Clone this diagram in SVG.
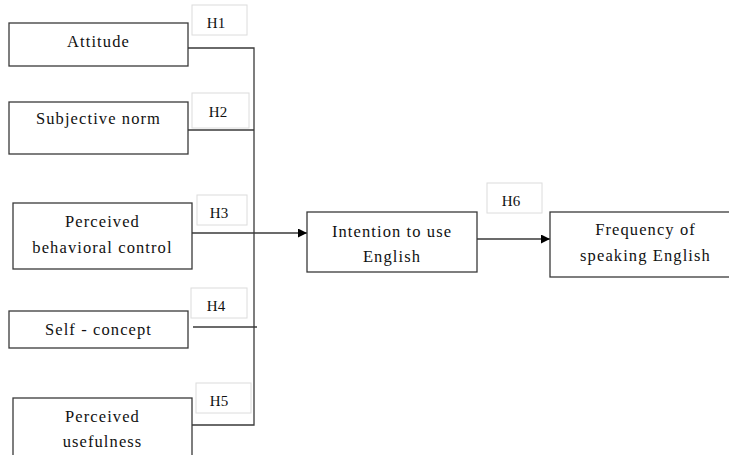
<svg xmlns="http://www.w3.org/2000/svg" width="729" height="455" viewBox="0 0 729 455">
  <defs>
    <marker id="arr" viewBox="0 0 10 10" refX="10" refY="5" markerWidth="9" markerHeight="9" markerUnits="userSpaceOnUse" orient="auto">
      <path d="M0,0 L10,5 L0,10 z" fill="#000"/>
    </marker>
  </defs>
  <style>
    .box { fill: #fff; stroke: #3a3a3a; stroke-width: 1.3; }
    .hbox { fill: #fff; stroke: #dcdcdc; stroke-width: 1; }
    .t { font-size: 16.5px; letter-spacing: 1.1px; fill: #111; }
    .h { font-size: 15px; fill: #111; }
    .ln { fill: none; stroke: #3a3a3a; stroke-width: 1.3; }
  </style>
  <rect width="729" height="455" fill="#fff"/>
  <g font-family="Liberation Serif, DejaVu Serif, serif" text-anchor="middle">
  <g id="labels">
    <g id="H1"><rect class="hbox" x="192" y="5" width="55" height="30"/><text class="h" x="216" y="28">H1</text></g>
    <g id="H2"><rect class="hbox" x="192" y="93" width="57" height="35"/><text class="h" x="218" y="117">H2</text></g>
    <g id="H3"><rect class="hbox" x="197" y="195" width="50" height="30"/><text class="h" x="219" y="218">H3</text></g>
    <g id="H4"><rect class="hbox" x="191" y="288" width="56" height="30"/><text class="h" x="216" y="311">H4</text></g>
    <g id="H5"><rect class="hbox" x="196" y="383" width="55" height="30"/><text class="h" x="219" y="406">H5</text></g>
    <g id="H6"><rect class="hbox" x="487" y="183" width="55" height="30"/><text class="h" x="511" y="206">H6</text></g>
  </g>

  <g id="connectors">
    <path class="ln" d="M188,48 H254 V425 H188"/>
    <path class="ln" d="M188,130 H254"/>
    <path class="ln" d="M193,327 H257"/>
    <path class="ln" d="M192,233 H307" marker-end="url(#arr)"/>
    <path class="ln" d="M477,239 H550" marker-end="url(#arr)"/>
  </g>

  <g id="attitude"><rect class="box" x="9" y="23" width="179" height="43"/><text class="t" x="98.5" y="47">Attitude</text></g>
  <g id="subjective-norm"><rect class="box" x="9" y="102" width="179" height="52"/><text class="t" x="98.5" y="124">Subjective norm</text></g>
  <g id="pbc"><rect class="box" x="13" y="203" width="179" height="66"/><text class="t" x="102.5" y="227">Perceived</text><text class="t" x="102.5" y="253">behavioral control</text></g>
  <g id="self-concept"><rect class="box" x="9" y="311" width="179" height="37"/><text class="t" x="98.5" y="335">Self - concept</text></g>
  <g id="perceived-usefulness"><rect class="box" x="13" y="398" width="179" height="70"/><text class="t" x="102.5" y="422">Perceived</text><text class="t" x="102.5" y="447">usefulness</text></g>
  <g id="intention"><rect class="box" x="307" y="212" width="170" height="60"/><text class="t" x="392" y="237">Intention to use</text><text class="t" x="392" y="262">English</text></g>
  <g id="frequency"><rect class="box" x="550" y="212" width="191" height="65"/><text class="t" x="645.5" y="235">Frequency of</text><text class="t" x="645.5" y="261">speaking English</text></g>
  </g>
</svg>
